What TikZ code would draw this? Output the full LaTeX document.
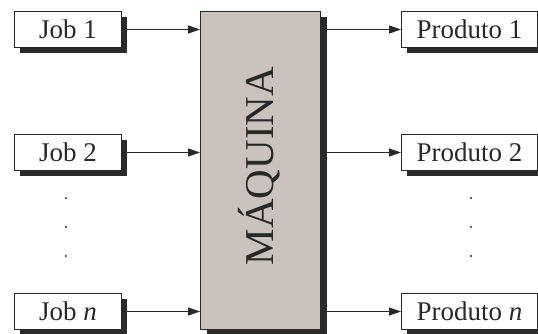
\documentclass[tikz,border=0pt]{standalone}
\usepackage{fontspec}
\setmainfont{Liberation Serif}
\usetikzlibrary{shadows,arrows.meta}
\definecolor{edgec}{RGB}{40,40,40}
\definecolor{shadowc}{RGB}{42,42,42}
\definecolor{machinec}{RGB}{201,194,191}
\tikzset{
  shadowed/.style={general shadow={fill=shadowc, shadow xshift=#1, shadow yshift=-5pt}},
  itembox/.style={draw=edgec, line width=1pt, fill=white, inner sep=0pt,
    minimum height=36pt, anchor=north west, shadowed=5pt,
    font=\fontsize{27}{30}\selectfont, text=edgec},
  jobbox/.style={itembox, minimum width=107pt},
  prodbox/.style={itembox, minimum width=136pt},
  machinebox/.style={draw=edgec, line width=1pt, fill=machinec, inner sep=0pt,
    minimum width=120pt, minimum height=318pt, anchor=north west, shadowed=6pt},
  flow/.style={draw=edgec, line width=1pt, -{Triangle[length=12pt,width=8pt]}},
  dot/.style={fill=edgec}
}
\begin{document}
\begin{tikzpicture}[x=1pt,y=-1pt]
  \useasboundingbox (0,0) rectangle (538,333);

  % machine
  \node[machinebox] (m) at (200,11) {};
  \node[rotate=90, anchor=base, inner sep=0pt, font=\fontsize{41}{44}\selectfont, text=edgec] (mlabel) at (273,166) {MÁQUINA};

  % jobs
  \node[jobbox] (j1) at (14,11) {Job 1};
  \node[jobbox] (j2) at (14,134) {Job 2};
  \node[jobbox] (jn) at (14,293) {Job \textit{n}};

  % products
  \node[prodbox] (p1) at (401,11) {Produto 1};
  \node[prodbox] (p2) at (401,134) {Produto 2};
  \node[prodbox] (pn) at (401,293) {Produto \textit{n}};

  % inputs
  \draw[flow] (j1.east) -- (m.west |- j1.east);
  \draw[flow] (j2.east) -- (m.west |- j2.east);
  \draw[flow] (jn.east) -- (m.west |- jn.east);

  % outputs
  \draw[flow] ([xshift=6pt]m.east |- p1.west) -- (p1.west);
  \draw[flow] ([xshift=6pt]m.east |- p2.west) -- (p2.west);
  \draw[flow] ([xshift=6pt]m.east |- pn.west) -- (pn.west);

  % ellipsis dots
  \foreach \yy in {198,227,256} {
    \fill[dot] (66,\yy) circle (1.2pt);
    \fill[dot] (471,\yy) circle (1.2pt);
  }
\end{tikzpicture}
\end{document}
